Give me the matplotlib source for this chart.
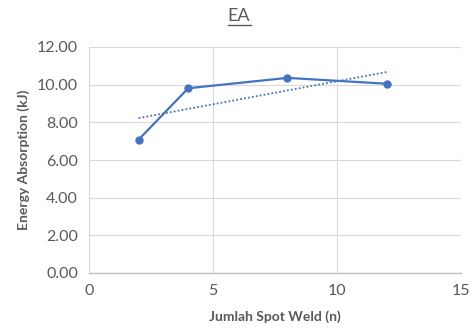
import matplotlib
matplotlib.use("Agg")
import matplotlib.pyplot as plt
from matplotlib.lines import Line2D
import numpy as np

x_vals = [2, 4, 8, 12]
ea_vals = [7.08, 9.81, 10.36, 10.05]
x_ticks = [0, 5, 10, 15]
y_ticks = [0, 2, 4, 6, 8, 10, 12]

plt.rcParams['font.family'] = ['Lato', 'DejaVu Sans']
blue = '#4472C4'
txt = '#595959'
grid = '#D9D9D9'

fig = plt.figure(figsize=(4.74, 3.28), dpi=100)
ax = fig.add_axes([89/474, 55/328, (461-89)/474, (273-47)/328])

ax.plot(x_vals, ea_vals, color=blue, lw=1.6, marker='o', ms=5, zorder=3)
coef = np.polyfit(x_vals, ea_vals, 1)
xt = np.array([min(x_vals), max(x_vals)])
ax.plot(xt, np.polyval(coef, xt), color=blue, lw=1.3, ls=(0, (1, 1.2)), zorder=2)

ax.set_xlim(0, 15)
ax.set_ylim(0, 12)
ax.set_xticks(x_ticks)
ax.set_yticks(y_ticks)
ax.set_yticklabels([f"{v:.2f}" for v in y_ticks])
ax.grid(True, color=grid, lw=0.8)
ax.set_axisbelow(True)
for s in ['top', 'right', 'left']:
    ax.spines[s].set_visible(False)
ax.spines['bottom'].set_color('#BFBFBF')
ax.spines['bottom'].set_linewidth(1.0)
ax.tick_params(length=0, labelsize=11.5, labelcolor=txt, pad=8)
ax.set_xlabel('Jumlah Spot Weld (n)', fontsize=10, fontweight='bold', color=txt, labelpad=9)
ax.set_ylabel('Energy Absorption (kJ)', fontsize=10, fontweight='bold', color=txt, labelpad=5)

fig.text(239/474, 1 - 16/328, 'EA', ha='center', va='center', fontsize=13, color=txt)
fig.add_artist(Line2D([228/474, 251/474], [1 - 25/328, 1 - 25/328], color=txt, lw=1))

fig.savefig('out.png', dpi=100)
